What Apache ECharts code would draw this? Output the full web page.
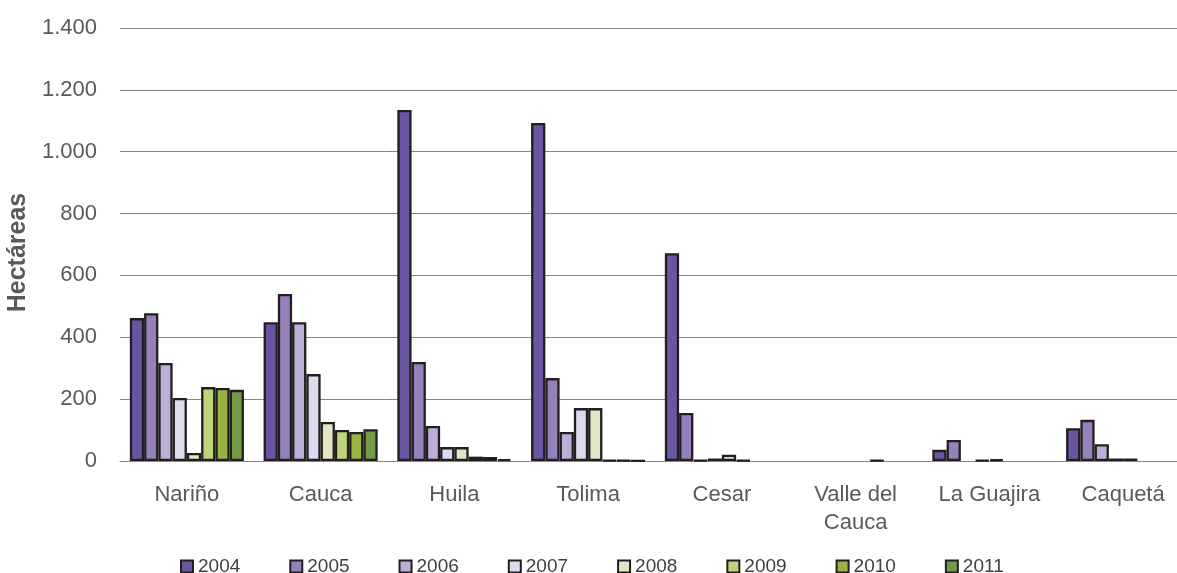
<!DOCTYPE html>
<html>
<head>
<meta charset="utf-8">
<script src="https://cdn.jsdelivr.net/npm/echarts@6/dist/echarts.min.js"></script>
<style>
html,body{margin:0;padding:0;background:#fff;}
#chart{width:1177px;height:573px;}
</style>
</head>
<body>
<div id="chart"></div>
<script>
const categories = ['Nariño', 'Cauca', 'Huila', 'Tolima', 'Cesar', 'Valle del\nCauca', 'La Guajira', 'Caquetá'];
const years = ['2004', '2005', '2006', '2007', '2008', '2009', '2010', '2011'];
// null = no bar drawn in the original
const y2004 = [462, 449, 1135, 1093, 672, null, 36, 106];
const y2005 = [478, 540, 320, 268, 155, null, 68, 133];
const y2006 = [317, 449, 113, 94, 3, null, null, 54];
const y2007 = [204, 281, 45, 171, 8, null, 3, 8];
const y2008 = [26, 126, 45, 171, 20, null, 5, 8];
const y2009 = [239, 100, 14, 2, 3, 2, null, null];
const y2010 = [236, 94, 13, 2, null, null, null, null];
const y2011 = [230, 103, 6, 1, null, null, null, null];
const yTicks = [0, 200, 400, 600, 800, 1000, 1200, 1400];
const colors = ['#6A55A3', '#9580BA', '#BCAED6', '#DCDCEE', '#E2E6C6', '#BFD57C', '#97B443', '#739A48'];

const seriesValues = [y2004, y2005, y2006, y2007, y2008, y2009, y2010, y2011];
const FONT = "'Liberation Sans Narrow', 'Arial Narrow', 'Liberation Sans', Arial, sans-serif";

const chart = echarts.init(document.getElementById('chart'), null, {renderer: 'canvas'});
chart.setOption({
  animation: false,
  backgroundColor: '#ffffff',
  color: colors,
  grid: {left: 120, top: 28, width: 1070, bottom: 112, containLabel: false, outerBoundsMode: 'none'},
  legend: {
    left: 175, top: 552,
    itemWidth: 12, itemHeight: 12, itemGap: 49,
    icon: 'rect',
    textStyle: {fontFamily: FONT, fontSize: 19, color: '#404040', padding: [2, 0, 0, 0]},
    data: years
  },
  xAxis: {
    type: 'category',
    data: categories,
    axisLine: {show: true, lineStyle: {color: '#868686', width: 1}},
    axisTick: {show: false},
    axisLabel: {interval: 0, fontFamily: FONT, fontSize: 22, color: '#595959', margin: 20, lineHeight: 28}
  },
  yAxis: {
    type: 'value',
    min: yTicks[0], max: yTicks[yTicks.length - 1], interval: 200,
    name: 'Hectáreas',
    nameLocation: 'middle',
    nameGap: 85,
    nameTextStyle: {fontFamily: FONT, fontSize: 25, fontWeight: 'bold', color: '#595959', padding: [0, 16, 0, 0]},
    axisLine: {show: false},
    axisTick: {show: false},
    splitLine: {lineStyle: {color: '#868686', width: 1}},
    axisLabel: {
      fontFamily: FONT, fontSize: 22, color: '#595959', margin: 23,
      formatter: v => v.toLocaleString('de-DE')
    }
  },
  series: years.map((y, i) => ({
    name: y,
    type: 'bar',
    data: seriesValues[i],
    barGap: '0%',
    barCategoryGap: '14.7%',
    itemStyle: {color: colors[i], borderColor: '#231F20', borderWidth: 2.3}
  }))
});
</script>
</body>
</html>
